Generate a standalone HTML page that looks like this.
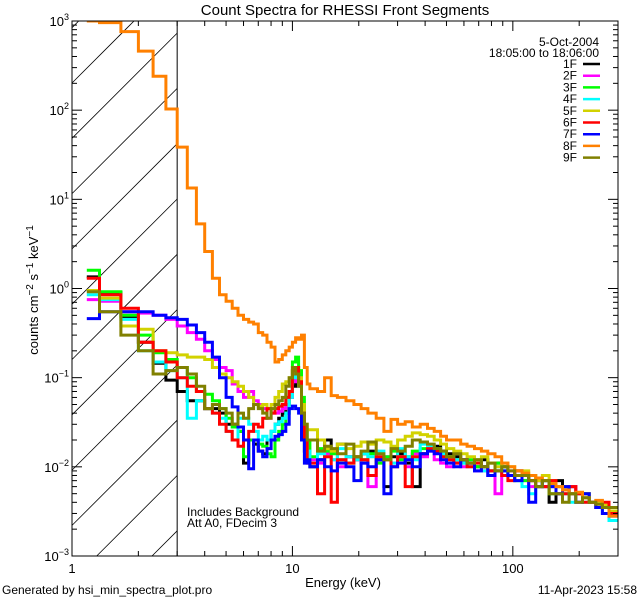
<!DOCTYPE html>
<html><head><meta charset="utf-8"><style>
html,body{margin:0;padding:0;background:#fff;width:640px;height:600px;overflow:hidden;}
svg{display:block;font-family:"Liberation Sans",sans-serif;}
</style></head><body>
<svg id="chart" width="640" height="600" viewBox="0 0 640 600" xmlns="http://www.w3.org/2000/svg" style="overflow:hidden">
<rect x="0" y="0" width="640" height="600" fill="#fff"/>
<text x="345" y="15" font-size="15" text-anchor="middle">Count Spectra for RHESSI Front Segments</text>
<g id="hatch"></g>
<g id="series"></g>
<g id="axes"></g>
<text transform="translate(38,290) rotate(-90)" font-size="13" text-anchor="middle">counts cm<tspan dy="-5" font-size="10">−2</tspan><tspan dy="5"> s</tspan><tspan dy="-5" font-size="10">−1</tspan><tspan dy="5"> keV</tspan><tspan dy="-5" font-size="10">−1</tspan></text>
<text x="343" y="587" font-size="13" text-anchor="middle">Energy (keV)</text>
<text x="187" y="516" font-size="12">Includes Background</text>
<text x="187" y="527" font-size="12">Att A0, FDecim 3</text>
<text x="2" y="594" font-size="12">Generated by hsi_min_spectra_plot.pro</text>
<text x="637" y="594" font-size="12" text-anchor="end">11-Apr-2023 15:58</text>
<g id="legend">
<text x="599" y="46" font-size="12" text-anchor="end">5-Oct-2004</text>
<text x="599" y="57" font-size="12" text-anchor="end">18:05:00 to 18:06:00</text>
</g>
</svg>
<script>
const NS="http://www.w3.org/2000/svg";
const edges=[1.1667,1.3333,1.6667,2,2.3333,2.6667,3,3.3333,3.6667,4,4.3333,4.6667,5,5.3333,5.6667,6,6.3333,6.6667,7,7.3333,7.6667,8,8.3333,8.6667,9,9.3333,9.6667,10,10.3333,10.6667,11,11.3333,11.6667,12,
13,14,15,16,17.5,19,20.5,22,24,26,28,30,32.5,35,38,41,44,47,50,54,58,62,67,72,77,83,89,95,102,110,118,127,136,146,157,168,180,193,207,222,238,255,273,300];
const seriesNames=["1F","2F","3F","4F","5F","6F","7F","8F","9F"];
const seriesColors=["#000000","#ff00ff","#00ff00","#00ffff","#d2d200","#ff0000","#0000ff","#ff8000","#808000"];
const s1F=[1.35,0.9,0.48,0.25,0.145,0.094,0.07,0.055,0.055,0.045,0.045,0.04,0.03,0.03,0.025,0.011,0.02,0.018,0.015,0.014,0.02,0.025,0.03,0.035,0.04,0.05,0.06,0.08,0.11,0.09,0.04,0.015,0.012,
.01,.012,.02,.015,.018,.013,.012,.014,.015,.012,.006,.013,.014,.011,.006,.014,.016,.017,.015,.014,.013,.012,.011,.01,.012,.009,.011,.01,.008,.009,.008,.007,.007,.006,.004,.007,.006,.006,.005,.005,.004,.004,.0035,.003];
const s2F=[0.75,0.72,0.55,0.53,0.5,0.45,0.38,0.32,0.27,0.2,0.16,0.13,0.12,0.085,0.07,0.06,0.07,0.055,0.05,0.045,0.035,0.04,0.04,0.042,0.045,0.05,0.06,0.09,0.11,0.08,0.03,0.02,0.015,
.012,.011,.014,.012,.01,.013,.012,.011,.006,.012,.013,.011,.012,.01,.014,.013,.015,.012,.011,.01,.012,.01,.011,.009,.009,.008,.005,.01,.009,.008,.007,.006,.007,.006,.006,.005,.005,.006,.004,.005,.004,.004,.0035,.003];
const s3F=[1.6,0.92,0.5,0.3,0.19,0.16,0.13,0.1,0.07,0.065,0.055,0.045,0.035,0.028,0.025,0.013,0.02,0.02,0.018,0.017,0.014,0.013,0.02,0.025,0.03,0.04,0.07,0.15,0.17,0.12,0.06,0.025,0.02,
.013,.016,.015,.014,.012,.011,.013,.012,.014,.011,.013,.015,.012,.013,.015,.016,.017,.016,.014,.013,.012,.011,.012,.01,.01,.009,.011,.01,.008,.007,.007,.008,.006,.007,.005,.006,.006,.005,.005,.005,.004,.004,.0035,.003];
const s4F=[0.85,0.75,0.45,0.2,0.15,0.12,0.1,0.035,0.055,0.045,0.04,0.035,0.025,0.02,0.035,0.035,0.03,0.025,0.02,0.022,0.02,0.025,0.03,0.032,0.035,0.04,0.06,0.1,0.12,0.08,0.04,0.02,0.015,
.011,.014,.013,.012,.016,.013,.012,.014,.013,.015,.012,.011,.016,.013,.012,.018,.017,.015,.014,.012,.012,.011,.01,.012,.009,.008,.01,.009,.008,.007,.006,.005,.006,.007,.006,.005,.005,.004,.005,.004,.004,.0035,.003,.0025];
const s5F=[0.95,0.78,0.38,0.35,0.2,0.19,0.18,0.17,0.17,0.16,0.13,0.11,0.1,0.09,0.08,0.07,0.06,0.05,0.048,0.05,0.045,0.05,0.06,0.07,0.085,0.09,0.1,0.12,0.13,0.1,0.05,0.03,0.026,
.026,.02,.016,.015,.018,.016,.017,.019,.018,.02,.019,.017,.02,.022,.024,.023,.022,.02,.018,.016,.015,.014,.013,.012,.013,.011,.01,.011,.01,.009,.009,.008,.007,.008,.007,.006,.006,.005,.005,.005,.004,.004,.0037,.0032];
const s6F=[1.3,0.85,0.6,0.25,0.2,0.15,0.1,0.08,0.07,0.045,0.04,0.03,0.025,0.02,0.017,0.02,0.025,0.03,0.028,0.035,0.045,0.04,0.045,0.048,0.05,0.06,0.07,0.12,0.13,0.09,0.04,0.02,0.011,
.011,.005,.013,.004,.012,.011,.013,.012,.008,.013,.012,.01,.013,.006,.013,.014,.016,.015,.013,.012,.011,.012,.01,.011,.01,.009,.009,.008,.007,.009,.008,.007,.006,.006,.007,.005,.005,.006,.005,.004,.004,.0035,.004,.003];
const s7F=[0.46,0.55,0.55,0.55,0.5,0.47,0.45,0.39,0.32,0.25,0.17,0.1,0.06,0.047,0.028,0.02,0.0095,0.02,0.015,0.013,0.016,0.02,0.022,0.023,0.025,0.03,0.045,0.048,0.045,0.04,0.02,0.011,0.012,
.01,.012,.01,.009,.011,.01,.007,.011,.01,.012,.005,.01,.011,.012,.01,.014,.015,.014,.012,.011,.01,.012,.011,.009,.01,.008,.009,.009,.008,.007,.008,.004,.006,.007,.006,.005,.006,.005,.004,.005,.004,.0035,.003,.0028];
const s8F=[1000,960,760,460,240,103,38.5,13.4,5.3,2.6,1.3,0.85,0.72,0.6,0.5,0.45,0.42,0.4,0.32,0.3,0.25,0.22,0.15,0.16,0.18,0.2,0.22,0.25,0.28,0.27,0.3,0.13,0.085,
0.075,0.07,0.1,0.063,0.06,0.055,0.05,0.045,0.04,0.035,0.025,0.034,0.03,0.032,0.028,0.03,0.027,0.025,0.022,0.02,0.02,0.018,0.017,0.016,0.015,0.014,0.013,0.011,0.01,0.009,0.0085,0.008,0.0075,0.007,0.0065,0.006,0.0055,0.005,0.0052,0.0045,0.004,0.0042,0.0035,0.0028];
const s9F=[0.92,0.55,0.3,0.2,0.11,0.12,0.13,0.11,0.08,0.045,0.05,0.045,0.04,0.03,0.04,0.035,0.045,0.05,0.045,0.04,0.035,0.045,0.05,0.055,0.06,0.08,0.1,0.13,0.11,0.08,0.04,0.03,0.02,
.02,.015,.017,.016,.014,.018,.013,.015,.019,.014,.012,.016,.015,.017,.02,.019,.018,.016,.015,.013,.014,.012,.011,.012,.01,.011,.009,.01,.009,.008,.008,.007,.006,.007,.005,.005,.004,.005,.004,.0045,.004,.0038,.0035,.0035];
const seriesValues=[s1F,s2F,s3F,s4F,s5F,s6F,s7F,s8F,s9F];
const yTickExps=[-3,-2,-1,0,1,2,3];
const xTickVals=[1,10,100];
const xTickLabels=["1","10","100"];

const L=72,R=618,T=21,B=556;
const xMin=1,xMax=300,yMinE=-3,yMaxE=3;
function xs(v){return L+(Math.log10(v)-Math.log10(xMin))/(Math.log10(xMax)-Math.log10(xMin))*(R-L);}
function ys(v){return B-(Math.log10(v)-yMinE)/(yMaxE-yMinE)*(B-T);}
function mk(tag,attrs,parent){const e=document.createElementNS(NS,tag);for(const k in attrs)e.setAttribute(k,attrs[k]);parent.appendChild(e);return e;}

const hatch=document.getElementById('hatch');
const svg=document.getElementById('chart');
const defs=mk('defs',{},svg);
const X3=xs(3);
for(let k=-12;k<12;k++){
  const y0=83+k*55.3; // line: y = y0 - (x - L)
  let xa=L, xb=X3;
  // clip to T..B: y>=T => x <= L+y0-T ; y<=B => x >= L+y0-B
  xa=Math.max(xa,L+y0-B); xb=Math.min(xb,L+y0-T);
  if(xb<=xa) continue;
  const ln=mk('line',{x1:xa.toFixed(1),y1:(y0-(xa-L)).toFixed(1),x2:xb.toFixed(1),y2:(y0-(xb-L)).toFixed(1),stroke:'#000','stroke-width':0.8},hatch);
  
  
}
const vl=mk('line',{x1:X3,y1:T,x2:X3,y2:B,stroke:'#000','stroke-width':1},hatch);



const sg=document.getElementById('series');
const cp2=mk('clipPath',{id:'pclip'},defs);
mk('rect',{x:L,y:T,width:R-L,height:B-T},cp2);
sg.setAttribute('clip-path','url(#pclip)');
seriesValues.forEach((vals,si)=>{
  let d='';
  for(let i=0;i<vals.length;i++){
    const x0=xs(edges[i]),x1=xs(edges[i+1]),y=ys(vals[i]);
    d+=(i===0?'M':'L')+x0.toFixed(1)+','+y.toFixed(1)+'L'+x1.toFixed(1)+','+y.toFixed(1);
  }
  const p=mk('path',{d:d,fill:'none',stroke:seriesColors[si],'stroke-width':3,'stroke-linejoin':'miter'},sg);
  
  
});

const ax=document.getElementById('axes');
const fr=mk('rect',{x:L,y:T,width:R-L,height:B-T,fill:'none',stroke:'#000','stroke-width':1},ax);


yTickExps.forEach(e=>{
  const y=ys(Math.pow(10,e));
  mk('line',{x1:L,y1:y,x2:L+10,y2:y,stroke:'#000'},ax);
  mk('line',{x1:R,y1:y,x2:R-10,y2:y,stroke:'#000'},ax);
  const t=mk('text',{x:L-3,y:y+5,'font-size':13,'text-anchor':'end'},ax);
  
  
  t.innerHTML='10<tspan dy="-6" font-size="9">'+(e<0?'−'+(-e):e)+'</tspan>';
  if(e<yMaxE){for(let m=2;m<=9;m++){const ym=ys(m*Math.pow(10,e));
    mk('line',{x1:L,y1:ym,x2:L+5,y2:ym,stroke:'#000'},ax);
    mk('line',{x1:R,y1:ym,x2:R-5,y2:ym,stroke:'#000'},ax);}}
});
xTickVals.forEach((v,i)=>{
  const x=xs(v);
  mk('line',{x1:x,y1:B,x2:x,y2:B-10,stroke:'#000'},ax);
  mk('line',{x1:x,y1:T,x2:x,y2:T+10,stroke:'#000'},ax);
  const t=mk('text',{x:x,y:B+17,'font-size':13,'text-anchor':'middle'},ax);
  
  
  t.textContent=xTickLabels[i];
  for(let m=2;m<=9;m++){const xm=xs(m*v);if(m*v>xMax)break;
    mk('line',{x1:xm,y1:B,x2:xm,y2:B-5,stroke:'#000'},ax);
    mk('line',{x1:xm,y1:T,x2:xm,y2:T+5,stroke:'#000'},ax);}
});

const lg=document.getElementById('legend');
seriesNames.forEach((n,i)=>{
  const y=64+i*11.7;
  const t=mk('text',{x:577,y:y+4,'font-size':12,'text-anchor':'end'},lg);
  
  
  t.textContent=n;
  const l=mk('line',{x1:583,y1:y,x2:600,y2:y,stroke:seriesColors[i],'stroke-width':2.5},lg);
  
  
});
</script>
</body></html>
